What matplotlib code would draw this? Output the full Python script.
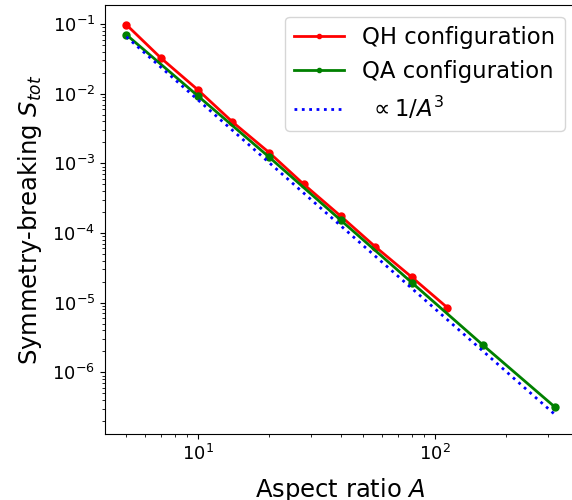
import numpy as np
import matplotlib
matplotlib.use("Agg")
import matplotlib.pyplot as plt

# QH configuration (aspect ratio, symmetry-breaking)
A_qh = [5, 7, 10, 14, 20, 28, 40, 56, 80, 113]
S_qh = [0.0977, 0.0324, 0.0114, 0.00394, 0.00143, 5.0e-4, 1.76e-4, 6.38e-5, 2.32e-5, 8.47e-6]

# QA configuration
A_qa = [5, 10, 20, 40, 80, 160, 320]
S_qa = [0.0702, 0.00933, 0.00123, 1.54e-4, 1.94e-5, 2.44e-6, 3.2e-7]

# reference scaling ~ 1/A^3
A_ref = np.array([5, 320])
C_ref = 8.2

fig = plt.figure(figsize=(5.72, 5.0), dpi=100)
ax = fig.add_axes([105/572, 66.3/500, 471/572, 428.4/500])

ax.loglog(A_qh, S_qh, 'o-', color='red', lw=2, ms=5, label='QH configuration')
ax.loglog(A_qa, S_qa, 'o-', color='green', lw=2, ms=5, label='QA configuration')
ax.loglog(A_ref, C_ref / A_ref**3, ':', color='blue', lw=2, label=r' $\propto 1/A^3$')

ax.set_xlabel('Aspect ratio $A$', fontsize=17.5, labelpad=9)
ax.set_ylabel('Symmetry-breaking $S_{tot}$', fontsize=17.5, labelpad=6)
ax.tick_params(labelsize=13)
ax.legend(loc='upper right', fontsize=16.4, markerscale=0.6, handlelength=2.2)

fig.savefig('out.png', dpi=100)
